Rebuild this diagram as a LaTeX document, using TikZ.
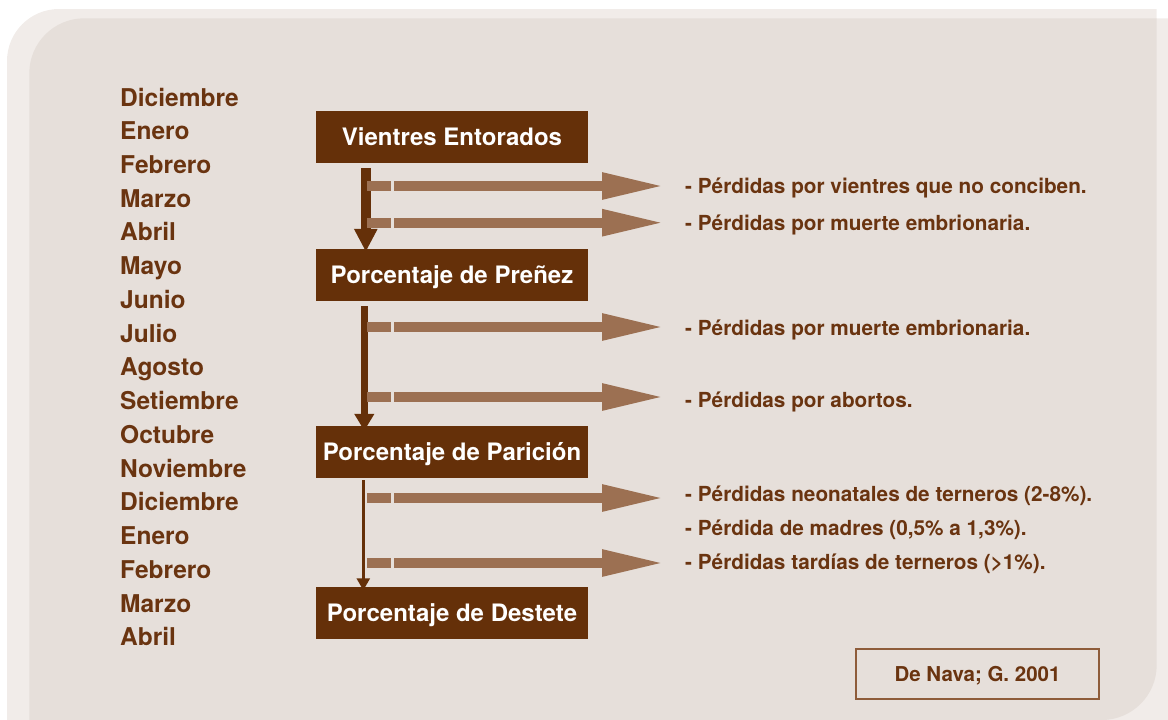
\documentclass[tikz,border=0pt]{standalone}
\usepackage{fontspec}
\setmainfont{TeX Gyre Heros}
\usepackage{tikz}
\usetikzlibrary{arrows.meta}

\definecolor{bgDark}{HTML}{E6DFDA}
\definecolor{bgLight}{HTML}{F1ECE9}
\definecolor{brownBox}{HTML}{653009}
\definecolor{brownText}{HTML}{6A3410}
\definecolor{brownArrow}{HTML}{9C7052}
\definecolor{brownLine}{HTML}{8E5C3A}

\begin{document}
\begin{tikzpicture}[x=1pt, y=1pt,
        month/.style={anchor=base west, inner sep=0pt, text=brownText,
            font=\fontsize{24.5}{28}\selectfont\bfseries},
        stage/.style={fill=brownBox, text=white, inner sep=0pt,
            minimum width=272pt, minimum height=52pt,
            text height=17.3pt, text depth=0pt,
            font=\fontsize{24}{28}\selectfont\bfseries},
        loss/.style={anchor=base west, inner sep=0pt, text=brownText,
            font=\fontsize{20.75}{24}\selectfont\bfseries},
        lossbar/.style={draw=brownArrow, line width=10pt},
        lossarrow/.style={lossbar, -{Triangle[length=63pt 0 0, width=24.5pt 0 0]}},
        flowA/.style={draw=brownBox, line width=10pt, -{Triangle[length=23pt 0 0, width=22pt 0 0]}},
        flowB/.style={draw=brownBox, line width=7pt, -{Triangle[length=17pt 0 0, width=19pt 0 0]}},
        flowC/.style={draw=brownBox, line width=2.6pt, -{Triangle[length=12pt 0 0, width=13pt 0 0]}}]
            \useasboundingbox (0,0) rectangle (1168,-720);
            \clip (0,0) rectangle (1168,-720);

            % background panels
            \fill[bgLight] (7,-800) -- (7,-61) arc[start angle=180, end angle=90, radius=52]
                -- (1156.7,-9) -- (1156.7,-18.3) -- (1200,-18.3) -- (1200,-800) -- cycle;
            \fill[bgDark] (29.3,-720) -- (29.3,-73.3) arc[start angle=180, end angle=90, radius=55]
                -- (1156.7,-18.3) -- (1156.7,-665) arc[start angle=0, end angle=-90, radius=55] -- cycle;

            % months
            \node[month] (m1) at (120,-106) {Diciembre};
            \node[month] (m2) at (120,-139.7) {Enero};
            \node[month] (m3) at (120,-173.5) {Febrero};
            \node[month] (m4) at (120,-207.2) {Marzo};
            \node[month] (m5) at (120,-240.9) {Abril};
            \node[month] (m6) at (120,-274.7) {Mayo};
            \node[month] (m7) at (120,-308.4) {Junio};
            \node[month] (m8) at (120,-342.1) {Julio};
            \node[month] (m9) at (120,-375.8) {Agosto};
            \node[month] (m10) at (120,-409.6) {Setiembre};
            \node[month] (m11) at (120,-443.3) {Octubre};
            \node[month] (m12) at (120,-477) {Noviembre};
            \node[month] (m13) at (120,-510.8) {Diciembre};
            \node[month] (m14) at (120,-544.5) {Enero};
            \node[month] (m15) at (120,-578.2) {Febrero};
            \node[month] (m16) at (120,-612) {Marzo};
            \node[month] (m17) at (120,-645.7) {Abril};

            % stages
            \node[stage] (entorados) at (452,-137) {Vientres Entorados};
            \node[stage] (prenez) at (452,-275) {Porcentaje de Preñez};
            \node[stage] (paricion) at (452,-452) {Porcentaje de Parición};
            \node[stage] (destete) at (452,-613) {Porcentaje de Destete};

            \draw[flowA] ([xshift=50pt, yshift=-5pt]entorados.south west) -- ([xshift=50pt, yshift=-3pt]prenez.north west);
            \draw[flowB] ([xshift=48.5pt, yshift=-5pt]prenez.south west) -- ([xshift=48.5pt, yshift=-5pt]paricion.north west);
            \draw[flowC] ([xshift=47.5pt, yshift=-2pt]paricion.south west) -- ([xshift=47.5pt, yshift=-3.5pt]destete.north west);

            % losses
            \node[loss] (loss1) at (685,-193.3) {- Pérdidas por vientres que no conciben.};
            \node[loss] (loss2) at (685,-230) {- Pérdidas por muerte embrionaria.};
            \node[loss] (loss3) at (685,-335.7) {- Pérdidas por muerte embrionaria.};
            \node[loss] (loss4) at (685,-407.7) {- Pérdidas por abortos.};
            \node[loss] (loss5) at (685,-501) {- Pérdidas neonatales de terneros (2-8\%).};
            \node[loss] (loss6) at (685,-535.7) {- Pérdida de madres (0,5\% a 1,3\%).};
            \node[loss] (loss7) at (685,-569) {- Pérdidas tardías de terneros (>1\%).};

            % arrow rows
            \coordinate (r1) at (367,-186);
            \coordinate (r2) at (367,-222.7);
            \coordinate (r3) at (367,-327);
            \coordinate (r4) at (367,-397);
            \coordinate (r5) at (367,-498);
            \coordinate (r7) at (367,-563);

            \draw[lossbar] (r1) -- ++(24,0);
            \draw[lossarrow] ([xshift=27.3pt]r1) -- ([xshift=-20pt]r1 -| loss1.west);
            \draw[lossbar] (r2) -- ++(24,0);
            \draw[lossarrow] ([xshift=27.3pt]r2) -- ([xshift=-20pt]r2 -| loss2.west);
            \draw[lossbar] (r3) -- ++(24,0);
            \draw[lossarrow] ([xshift=27.3pt]r3) -- ([xshift=-20pt]r3 -| loss3.west);
            \draw[lossbar] (r4) -- ++(24,0);
            \draw[lossarrow] ([xshift=27.3pt]r4) -- ([xshift=-20pt]r4 -| loss4.west);
            \draw[lossbar] (r5) -- ++(24,0);
            \draw[lossarrow] ([xshift=27.3pt]r5) -- ([xshift=-20pt]r5 -| loss5.west);
            \draw[lossbar] (r7) -- ++(24,0);
            \draw[lossarrow] ([xshift=27.3pt]r7) -- ([xshift=-20pt]r7 -| loss7.west);

            % source
            \node[draw=brownLine, line width=1.5pt, text=brownText, inner sep=0pt,
                minimum width=243pt, minimum height=50pt, text height=14.7pt, text depth=0pt,
                font=\fontsize{20.5}{24}\selectfont\bfseries] (source) at (977.5,-674) {De Nava; G. 2001};
        \end{tikzpicture}
\end{document}
